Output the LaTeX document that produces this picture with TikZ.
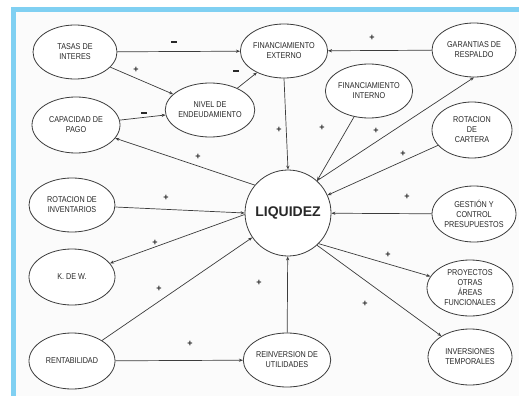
\documentclass[tikz,border=0pt]{standalone}
\usepackage{fontspec}
\setmainfont{Liberation Sans}
\newfontfamily\narrowfont[FakeStretch=0.85]{Liberation Sans}
\usetikzlibrary{shapes.geometric,arrows.meta}
\definecolor{framebl}{RGB}{128,208,242}
\definecolor{inkc}{RGB}{60,60,60}
\definecolor{txtc}{RGB}{40,40,40}
\definecolor{bgc}{RGB}{251,251,251}
\tikzset{
  oval/.style={ellipse,draw=inkc,line width=0.8pt,fill=white,inner sep=0pt,
    minimum width=84pt,minimum height=54pt,align=center,text=txtc,
    font=\narrowfont\fontsize{8.5}{10}\selectfont},
  conn/.style={draw=inkc,line width=0.7pt,-{Stealth[length=4pt,width=3.2pt]}},
  sgn/.style={font=\fontsize{9}{9}\selectfont\bfseries,text=txtc,inner sep=0pt}
}
\newcommand{\mysgnminus}{\rule[0pt]{6pt}{1.8pt}}
\begin{document}
\begin{tikzpicture}[x=1pt,y=-1pt]
\useasboundingbox (0,0) rectangle (519,396);
\fill[white] (0,0) rectangle (519,396);
\fill[bgc] (16,12) rectangle (519,396);
\fill[framebl] (11,7) rectangle (16,396);
\fill[framebl] (11,7) rectangle (519,12);

\node[oval] (tas) at (75,52) {TASAS DE\\INTERES};
\node[oval,minimum width=80pt] (fe) at (284,51) {FINANCIAMIENTO\\EXTERNO};
\node[oval] (gar) at (474,50) {GARANTIAS DE\\RESPALDO};
\node[oval] (niv) at (210,110) {NIVEL DE\\ENDEUDAMIENTO};
\node[oval,minimum width=77pt] (fi) at (369,91) {FINANCIAMIENTO\\INTERNO};
\node[oval,minimum width=88pt,minimum height=56pt] (cap) at (76,125) {CAPACIDAD DE\\PAGO};
\node[oval,minimum width=80pt,minimum height=56pt] (rc) at (472,130) {ROTACION\\DE\\CARTERA};
\node[oval,minimum width=86pt] (ri) at (72,205) {ROTACION DE\\INVENTARIOS};
\node[circle,draw=inkc,line width=0.8pt,fill=white,minimum size=86pt,inner sep=0pt,
  text=txtc,font=\fontsize{14}{14}\selectfont\bfseries] (liq) at (288,213) {LIQUIDEZ};
\node[oval,minimum height=56pt] (ges) at (474,214) {GESTIÓN Y\\CONTROL\\PRESUPUESTOS};
\node[oval,minimum width=86pt,minimum height=56pt] (kw) at (72,277) {K. DE W.};
\node[oval,minimum width=86pt,minimum height=56pt] (pro) at (470,288) {PROYECTOS\\OTRAS\\ÁREAS\\FUNCIONALES};
\node[oval,minimum width=86pt,minimum height=56pt] (ren) at (72,361) {RENTABILIDAD};
\node[oval] (rei) at (287,360) {REINVERSION DE\\UTILIDADES};
\node[oval,minimum height=56pt] (inv) at (470,357) {INVERSIONES\\TEMPORALES};

\draw[conn] (tas) -- (fe);
\draw[conn] (tas) -- (niv);
\draw[conn] (cap) -- (niv);
\draw[conn] (niv) -- (fe);
\draw[conn] (gar) -- (fe);
\draw[conn] (fe.south) -- (liq.north);
\draw[conn] (fi) -- (liq.48);
\draw[conn] (liq.48) -- (gar.south);
\draw[conn] (rc) -- (liq);
\draw[conn] (ges) -- (liq);
\draw[conn] (liq.-45) -- (pro);
\draw[conn] (liq.-48) -- (inv);
\draw[conn] (rei) -- (liq);
\draw[conn] (ren) -- (rei);
\draw[conn] (ren) -- (liq);
\draw[conn] (liq.182) -- (kw);
\draw[conn] (ri) -- (liq.180);
\draw[conn] (liq.140) -- (cap);

\node[sgn] (s1) at (174,42) {\mysgnminus};
\node[sgn] (s2) at (136,70) {+};
\node[sgn] (s3) at (144,113) {\mysgnminus};
\node[sgn] (s4) at (236,71) {\mysgnminus};
\node[sgn] (s5) at (372,38) {+};
\node[sgn] (s6) at (279,130) {+};
\node[sgn] (s7) at (322,128) {+};
\node[sgn] (s8) at (376,131) {+};
\node[sgn] (s9) at (403,154) {+};
\node[sgn] (s10) at (407,197) {+};
\node[sgn] (s11) at (388,255) {+};
\node[sgn] (s12) at (365,304) {+};
\node[sgn] (s13) at (259,283) {+};
\node[sgn] (s14) at (190,344) {+};
\node[sgn] (s15) at (159,289) {+};
\node[sgn] (s16) at (155,243) {+};
\node[sgn] (s17) at (166,198) {+};
\node[sgn] (s18) at (198,157) {+};
\end{tikzpicture}
\end{document}
